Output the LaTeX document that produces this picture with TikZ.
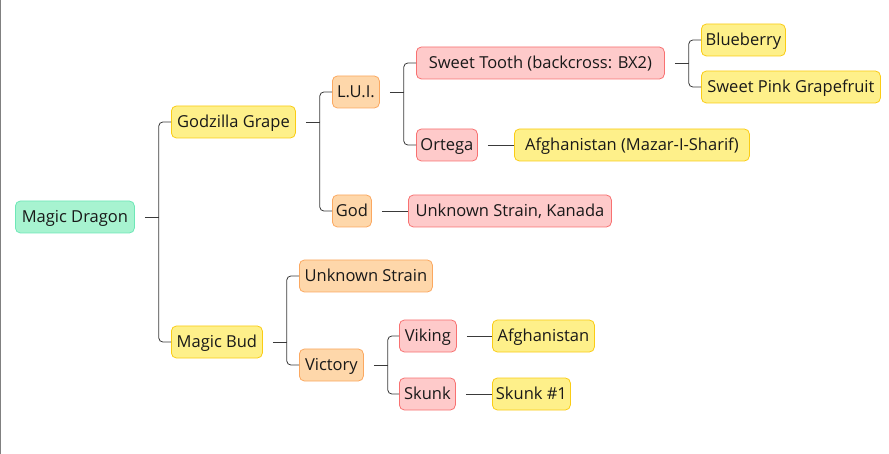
\documentclass[tikz,border=0pt]{standalone}
\usepackage{fontspec}
\setmainfont{Open Sans}
\usetikzlibrary{calc}
\definecolor{gfill}{HTML}{A7F3D0}\definecolor{gline}{HTML}{6EE7B7}
\definecolor{yfill}{HTML}{FEF08A}\definecolor{yline}{HTML}{FACC15}
\definecolor{ofill}{HTML}{FED7AA}\definecolor{oline}{HTML}{FBA860}
\definecolor{rfill}{HTML}{FECACA}\definecolor{rline}{HTML}{F87171}
\definecolor{conn}{HTML}{3A3A3A}
\begin{document}
\begin{tikzpicture}[x=1pt,y=-1pt,
  box/.style={draw, rounded corners=5pt, line width=0.8pt, minimum height=32pt, inner sep=0pt,
    font=\fontsize{16.5}{19}\selectfont, text height=11.8pt, text depth=0pt, anchor=west, text=black!90},
  gbox/.style={box, fill=gfill, draw=gline},
  ybox/.style={box, fill=yfill, draw=yline},
  obox/.style={box, fill=ofill, draw=oline},
  rbox/.style={box, fill=rfill, draw=rline},
  con/.style={draw=conn, line width=0.8pt},
  br/.style={con, rounded corners=4pt}]
\useasboundingbox (0,0) rectangle (889,454);
\draw[gray, line width=1pt] (0.5,0) -- (0.5,454);
% nodes
\node[gbox, minimum width=119] (md) at (15,217) {Magic Dragon};
\node[ybox, minimum width=124] (gg) at (171,122) {Godzilla Grape};
\node[ybox, minimum width=91] (mb) at (171,342) {Magic Bud};
\node[obox, minimum width=47] (lui) at (332,92) {L.U.I.};
\node[obox, minimum width=39] (god) at (332,211) {God};
\node[obox, minimum width=133] (us) at (299,276) {Unknown Strain};
\node[obox, minimum width=64] (vic) at (299,365) {Victory};
\node[rbox, minimum width=248] (st) at (416,63) {Sweet Tooth (backcross: BX2)};
\node[rbox, minimum width=61] (ort) at (416,145) {Ortega};
\node[rbox, minimum width=203] (usk) at (408,211) {Unknown Strain, Kanada};
\node[rbox, minimum width=57] (vik) at (399,336) {Viking};
\node[rbox, minimum width=56] (sku) at (399,394) {Skunk};
\node[ybox, minimum width=84] (blu) at (701,40) {Blueberry};
\node[ybox, minimum width=179] (spg) at (701,87) {Sweet Pink Grapefruit};
\node[ybox, minimum width=235] (afm) at (514,145) {Afghanistan (Mazar-I-Sharif)};
\node[ybox, minimum width=102] (afg) at (492,336) {Afghanistan};
\node[ybox, minimum width=78] (sk1) at (492,394) {Skunk \#1};
% connectors: branch groups
\foreach \p/\a/\b in {md/gg/mb, gg/lui/god, lui/st/ort, st/blu/spg, mb/us/vic, vic/vik/sku}{
  \draw[con] ([xshift=10pt]\p.east) -- ([xshift=24pt]\p.east);
  \draw[br] ([xshift=24pt]\p.east) |- (\a.west);
  \draw[br] ([xshift=24pt]\p.east) |- (\b.west);
}
% single-child connectors
\foreach \p/\c in {ort/afm, god/usk, vik/afg, sku/sk1}{
  \draw[con] ([xshift=10pt]\p.east) -- (\c.west);
}
\end{tikzpicture}
\end{document}
